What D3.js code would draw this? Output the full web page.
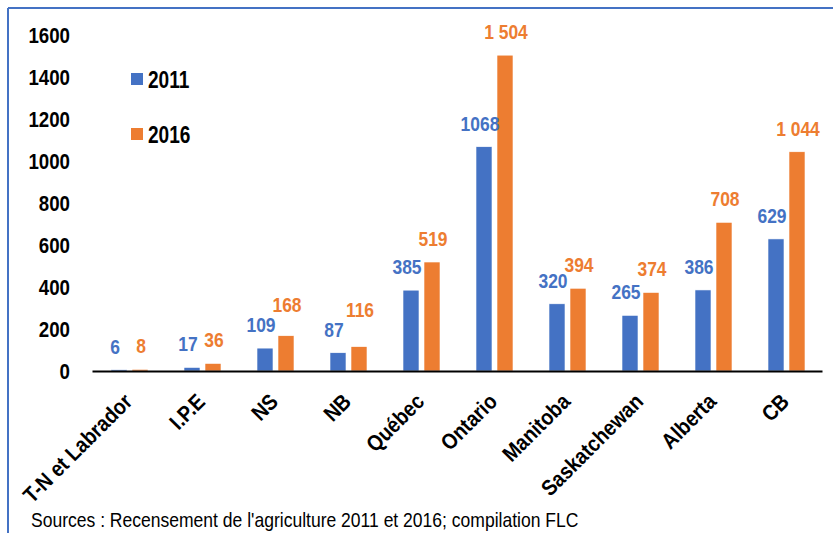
<!DOCTYPE html>
<html>
<head>
<meta charset="utf-8">
<script src="https://cdn.jsdelivr.net/npm/d3@7"></script>
<style>
  body { margin: 0; background: #fff; }
  svg { font-family: "Liberation Sans Narrow", "Arial Narrow", "Liberation Sans", Arial, sans-serif; }
</style>
</head>
<body>
<div class="chart-container"></div>
<script>
const provinces = ["T-N et Labrador", "I.P.E", "NS", "NB", "Québec", "Ontario", "Manitoba", "Saskatchewan", "Alberta", "CB"];
const values2011 = [6, 17, 109, 87, 385, 1068, 320, 265, 386, 629];
const values2016 = [8, 36, 168, 116, 519, 1504, 394, 374, 708, 1044];
const seriesNames = ["2011", "2016"];
const yTicks = [0, 200, 400, 600, 800, 1000, 1200, 1400, 1600];
const sourceText = "Sources : Recensement de l'agriculture 2011 et 2016; compilation FLC";

const width = 833;
const height = 533;
const margin = { top: 35, right: 11, bottom: 162, left: 92 };
const colors = ["#4472C4", "#ED7D31"];
// no narrow font installed, so squeeze the regular one
const narrow = 0.83;

const svg = d3
  .select(".chart-container")
  .append("svg")
  .attr("width", width)
  .attr("height", height);

// frame lines (top and left only)
svg.append("line")
  .attr("x1", 8).attr("x2", width).attr("y1", 8).attr("y2", 8)
  .style("stroke", "#4472C4").style("stroke-width", 2);
svg.append("line")
  .attr("x1", 8).attr("x2", 8).attr("y1", 8).attr("y2", height)
  .style("stroke", "#4472C4").style("stroke-width", 2);

const x = d3.scaleBand()
  .domain(provinces)
  .range([margin.left, width - margin.right]);

const y = d3.scaleLinear()
  .domain([0, 1600])
  .range([height - margin.bottom, margin.top]);

const barW = 16;
const offsets = [-17.5, 3.5];
const labelShift = [-4, 1];

const rows = provinces.map((p, i) => ({ p: p, v: [values2011[i], values2016[i]] }));

const fmt2016 = d3.formatLocale({ decimal: ",", thousands: " ", grouping: [3], currency: ["", ""] }).format(",d");
const labelFmt = [d3.format("d"), fmt2016];

// y axis labels only
const yAxis = svg.append("g")
  .attr("class", "y-axis")
  .attr("transform", "translate(" + (margin.left - 22) + ",0)")
  .call(d3.axisLeft(y).tickValues(yTicks).tickSize(0).tickPadding(0).tickFormat(d3.format("d")));
yAxis.select(".domain").remove();
yAxis.selectAll("text")
  .attr("transform", "scale(0.85,1)")
  .style("font-size", "22px")
  .style("font-weight", "bold")
  .style("fill", "#000");

// bars
seriesNames.forEach((s, k) => {
  svg.append("g")
    .selectAll("rect")
    .data(rows)
    .join("rect")
    .attr("x", d => x(d.p) + x.bandwidth() / 2 + offsets[k])
    .attr("y", d => y(d.v[k]))
    .attr("width", barW)
    .attr("height", d => y(0) - y(d.v[k]))
    .style("fill", colors[k])
    .style("stroke", "#fff")
    .style("stroke-width", 0.6);
});

// value labels
const labelGroups = seriesNames.map((s, k) =>
  svg.append("g")
    .selectAll("text")
    .data(rows)
    .join("text")
    .attr("text-anchor", "middle")
    .style("font-size", "21px")
    .style("font-weight", "bold")
    .style("fill", colors[k])
    .text(d => labelFmt[k](d.v[k]))
);

// positions; the 2016 label is lifted when it would sit on the 2011 one
const labelPos = rows.map((d, i) => {
  const pts = [0, 1].map(k => {
    const node = labelGroups[k].nodes()[i];
    return {
      x: x(d.p) + x.bandwidth() / 2 + offsets[k] + barW / 2 + labelShift[k],
      y: y(d.v[k]) - 16,
      w: node.getComputedTextLength() * narrow
    };
  });
  const hitX = pts[0].x + pts[0].w / 2 + 6 > pts[1].x - pts[1].w / 2;
  if (hitX && pts[0].y - pts[1].y < 14) pts[1].y = pts[0].y - 20;
  return pts;
});

labelGroups.forEach((sel, k) => {
  sel.attr("transform", (d, i) => "translate(" + labelPos[i][k].x + "," + labelPos[i][k].y + ") scale(" + narrow + ",1)");
});

// x axis
const xAxis = svg.append("g")
  .attr("class", "x-axis")
  .attr("transform", "translate(0," + y(0) + ")")
  .call(d3.axisBottom(x).tickSize(0).tickPadding(0));
xAxis.select(".domain")
  .style("stroke", "#000")
  .style("stroke-width", 2);
xAxis.selectAll("text")
  .attr("text-anchor", "end")
  .attr("y", 0)
  .attr("dy", 0)
  .attr("transform", "translate(5,32) rotate(-45) scale(0.88,1)")
  .style("font-size", "22px")
  .style("font-weight", "bold")
  .style("fill", "#000");

// legend
const legend = svg.append("g").attr("class", "legend");
seriesNames.forEach((s, k) => {
  legend.append("rect")
    .attr("x", 131)
    .attr("y", 73 + k * 55)
    .attr("width", 12)
    .attr("height", 12)
    .style("fill", colors[k]);
  legend.append("text")
    .attr("transform", "translate(148," + (88 + k * 55) + ") scale(" + narrow + ",1)")
    .style("font-size", "23px")
    .style("font-weight", "bold")
    .text(s);
});

// source
svg.append("text")
  .attr("transform", "translate(31,527) scale(0.835,1)")
  .style("font-size", "21px")
  .style("fill", "#000")
  .text(sourceText);
</script>
</body>
</html>
